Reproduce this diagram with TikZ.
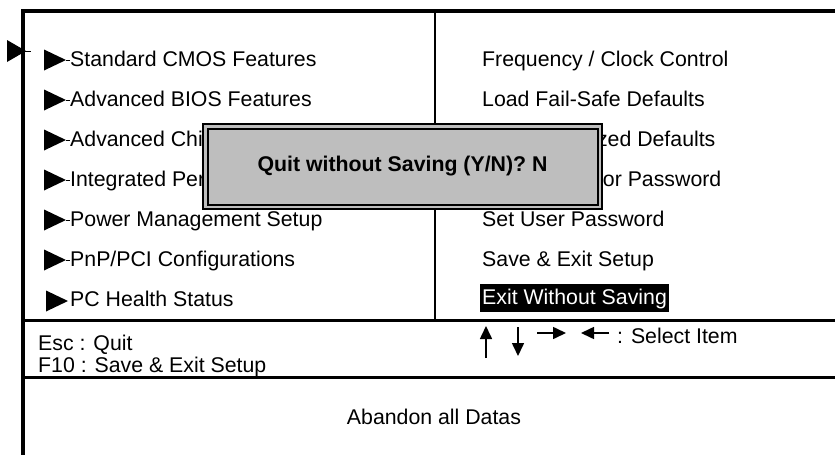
\documentclass[tikz,border=0pt]{standalone}
\usepackage{fontspec}
\setmainfont{Liberation Sans}
\usepackage{xcolor}
\usetikzlibrary{arrows.meta}
\definecolor{dlggray}{HTML}{BEBEBE}
\tikzset{
  item/.style={anchor=base west, inner sep=0pt, font=\fontsize{21.3}{25}\selectfont},
  dialog/.style={draw, line width=2pt, double=dlggray, double distance=2.5pt,
    fill=dlggray, inner sep=0pt, minimum width=394.5pt, minimum height=80.5pt,
    font=\fontsize{21.3}{25}\selectfont\bfseries},
  keytip/.style={line width=1.6pt, -{Triangle[width=12pt,length=13pt]}}
}

\begin{document}
\begin{tikzpicture}[x=1pt,y=-1pt]
  \useasboundingbox (0,0) rectangle (835,455);

  % frame
  \draw[line width=4pt] (21,11) -- (835,11);
  \draw[line width=4pt] (23,9) -- (23,455);
  \draw[line width=2pt] (435,11) -- (435,320);
  \draw[line width=3pt] (23,320.5) -- (835,320.5);
  \draw[line width=3pt] (23,377.5) -- (835,377.5);

  % pointer on the frame
  \fill (7,40) -- (26,51) -- (7,62) -- cycle;
  \draw (22,51) -- (31,51);

  % left menu
  \fill (44,49.5) -- (66,60) -- (44,70.5) -- cycle;  \draw (66,60) -- (70,60);
  \node (std) [item] at (70,66.5) {Standard CMOS Features};
  \fill (44,89.5) -- (66,100) -- (44,110.5) -- cycle;  \draw (66,100) -- (70,100);
  \node (bios) [item] at (70,106.5) {Advanced BIOS Features};
  \fill (44,129.5) -- (66,140) -- (44,150.5) -- cycle;  \draw (66,140) -- (70,140);
  \node (chip) [item] at (70,146.5) {Advanced Chipset Features};
  \fill (44,169.5) -- (66,180) -- (44,190.5) -- cycle;  \draw (66,180) -- (70,180);
  \node (integ) [item] at (70,186.5) {Integrated Peripherals};
  \fill (44,209.5) -- (66,220) -- (44,230.5) -- cycle;  \draw (66,220) -- (70,220);
  \node (power) [item] at (70,226.5) {Power Management Setup};
  \fill (44,249.5) -- (66,260) -- (44,270.5) -- cycle;  \draw (66,260) -- (70,260);
  \node (pnp) [item] at (70,266.5) {PnP/PCI Configurations};
  \fill (46,290.5) -- (68,301) -- (46,311.5) -- cycle;
  \node (health) [item] at (70,306.5) {PC Health Status};

  % right menu
  \node (freq) [item] at (482,66.5) {Frequency / Clock Control};
  \node (failsafe) [item] at (482,106.5) {Load Fail-Safe Defaults};
  \node (optim) [item] at (482,146.5) {Load Optimized Defaults};
  \node (superpw) [item] at (482,186.5) {Set Supervisor Password};
  \node (userpw) [item] at (482,226.5) {Set User Password};
  \node (saveexit) [item] at (482,266.5) {Save \& Exit Setup};
  \node (nosave) [item, fill=black, text=white, inner xsep=2pt, inner ysep=4pt,
    text height=16pt, text depth=4pt] at (480,304) {Exit Without Saving};

  % help line
  \node (esc) [item] at (38,350) {Esc : Quit};
  \node (f10) [item] at (38,372) {F10 : Save \& Exit Setup};
  \draw[keytip] (486,358) -- (486,326);
  \draw[keytip] (518,327) -- (518,356);
  \draw[keytip] (537,333) -- (566,333);
  \draw[keytip] (609,333) -- (581,333);
  \node (select) [item] at (617,343) {: Select Item};

  \node (abandon) [item, anchor=base] at (434,424) {Abandon all Datas};

  % message box
  \node (quit) [dialog] at (402.5,166.5) {Quit without Saving (Y/N)? N};

\end{tikzpicture}
\end{document}
